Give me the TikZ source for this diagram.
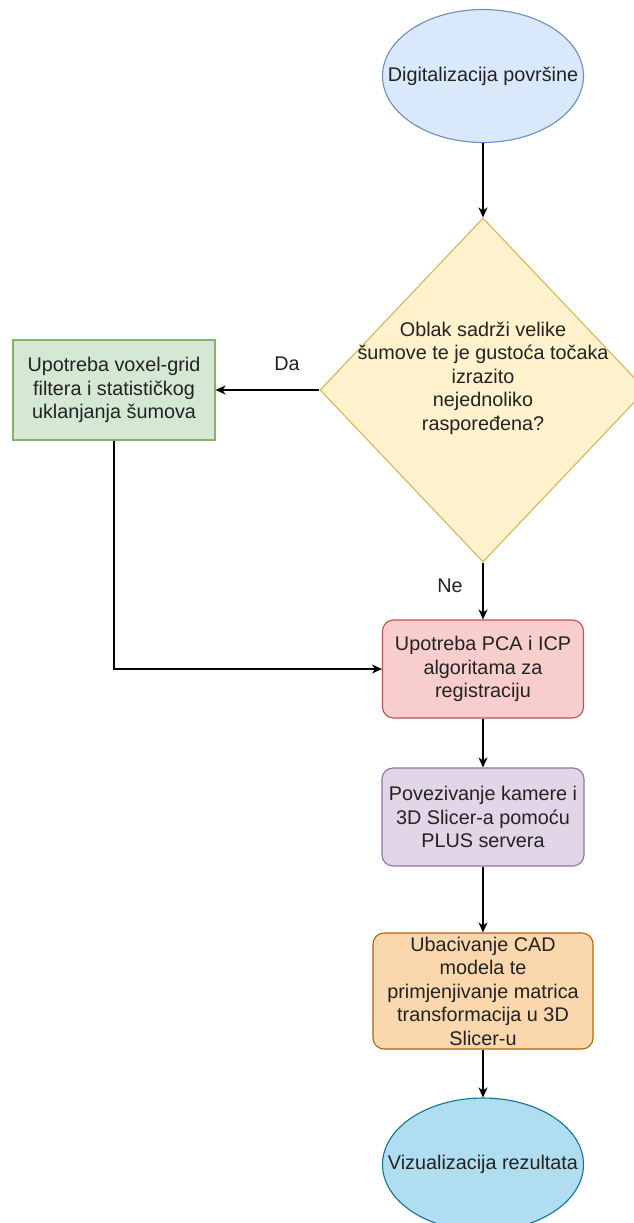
\documentclass[tikz,border=0pt]{standalone}
\usepackage{fontspec}
\setmainfont{Liberation Sans}
\usetikzlibrary{shapes.geometric,arrows.meta}
\definecolor{bluefill}{HTML}{DAE8FC}\definecolor{bluedraw}{HTML}{6C8EBF}
\definecolor{yelfill}{HTML}{FFF2CC}\definecolor{yeldraw}{HTML}{D6B656}
\definecolor{grnfill}{HTML}{D5E8D4}\definecolor{grndraw}{HTML}{82B366}
\definecolor{redfill}{HTML}{F8CECC}\definecolor{reddraw}{HTML}{B85450}
\definecolor{purfill}{HTML}{E1D5E7}\definecolor{purdraw}{HTML}{9673A6}
\definecolor{orgfill}{HTML}{FAD7AC}\definecolor{orgdraw}{HTML}{B46504}
\definecolor{cyanfill}{HTML}{B1DDF0}\definecolor{cyandraw}{HTML}{10739E}
\definecolor{txt}{HTML}{222222}
\begin{document}
\begin{tikzpicture}[x=1pt,y=-1pt,
  every node/.style={font=\fontsize{19.8}{23.5}\selectfont, text=txt, align=center, inner sep=0pt},
  ell/.style={ellipse, draw, line width=1.1pt, minimum width=201pt, minimum height=133pt},
  boxr/.style={rectangle, draw, line width=1.1pt, rounded corners=11pt},
  flow/.style={draw=black, line width=1.3pt, -{Stealth[length=10pt,width=9pt,inset=3pt]}},
  lbl/.style={font=\fontsize{19.8}{23.5}\selectfont}
]
\useasboundingbox (0,0) rectangle (634,1223);
\fill[white] (0,0) rectangle (634,1223);

\node[ell, fill=bluefill, draw=bluedraw] (start) at (483,76) {};
\node (starttext) at (start.center) {Digitalizacija površine};

\node[diamond, draw=yeldraw, fill=yelfill, line width=1.1pt, minimum width=326pt, minimum height=344pt] (dec) at (483,390) {};
\node (dectext) at (483,378) {Oblak sadrži velike\\šumove te je gustoća točaka\\izrazito\\nejednoliko\\raspoređena?};

\node[rectangle, draw=grndraw, fill=grnfill, line width=1.1pt, minimum width=202pt, minimum height=100pt] (filt) at (114,390) {Upotreba voxel-grid\\filtera i statističkog\\uklanjanja šumova};

\node[boxr, draw=reddraw, fill=redfill, minimum width=201pt, minimum height=98pt] (reg) at (483,669) {Upotreba PCA i ICP\\algoritama za\\registraciju};

\node[boxr, draw=purdraw, fill=purfill, minimum width=202pt, minimum height=98pt] (conn) at (483,817) {Povezivanje kamere i\\3D Slicer-a pomoću\\PLUS servera};

\node[boxr, draw=orgdraw, fill=orgfill, minimum width=220pt, minimum height=116pt] (cad) at (483,991) {Ubacivanje CAD\\modela te\\primjenjivanje matrica\\transformacija u 3D\\Slicer-u};

\node[ell, fill=cyanfill, draw=cyandraw] (viz) at (483,1164.5) {};
\node (viztext) at (viz.center) {Vizualizacija rezultata};

\draw[flow] (start.south) -- (dec.north);
\draw[flow] (dec.west) -- (filt.east);
\node[lbl] (da) at (287,364) {Da};
\draw[flow] (dec.south) -- (reg.north);
\node[lbl] (ne) at (450,586) {Ne};
\draw[flow] (filt.south) |- (reg.west);
\draw[flow] (reg.south) -- (conn.north);
\draw[flow] (conn.south) -- (cad.north);
\draw[flow] (cad.south) -- (viz.north);
\end{tikzpicture}
\end{document}
